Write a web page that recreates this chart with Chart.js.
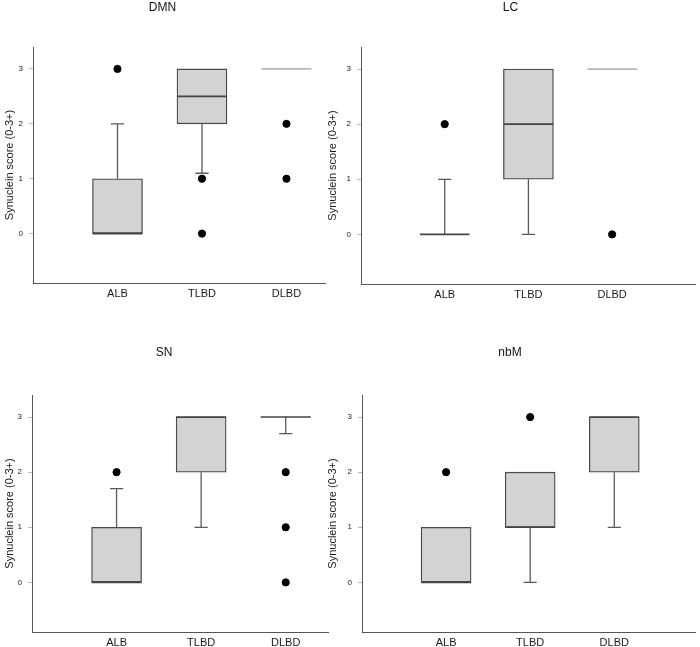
<!DOCTYPE html>
<html>
<head>
<meta charset="utf-8">
<script src="https://cdn.jsdelivr.net/npm/chart.js@4.4.1/dist/chart.umd.min.js"></script>
<style>
  body { margin: 0; background: #fff; width: 700px; height: 647px; position: relative; overflow: hidden; }
  .panel { position: absolute; }
</style>
</head>
<body>
<div class="panel" style="left:0;top:0"><canvas id="c0" width="335" height="310"></canvas></div>
<div class="panel" style="left:323px;top:0"><canvas id="c1" width="377" height="310"></canvas></div>
<div class="panel" style="left:0;top:320px"><canvas id="c2" width="335" height="327"></canvas></div>
<div class="panel" style="left:323px;top:320px"><canvas id="c3" width="377" height="327"></canvas></div>
<script>
// groups on the x axis
const groups = ['ALB', 'TLBD', 'DLBD'];
const yTicks = [0, 1, 2, 3];
const yTitle = 'Synuclein score (0-3+)';

// DMN
const dmnQ1 = [0, 2, 3];
const dmnQ3 = [1, 3, 3];
const dmnMedian = [0, 2.5, 3];
const dmnLow = [0, 1.1, 3];
const dmnHigh = [2, 3, 3];
const dmnOutliers = [[3], [1, 0], [2, 1]];

// LC
const lcQ1 = [0, 1, 3];
const lcQ3 = [0, 3, 3];
const lcMedian = [0, 2, 3];
const lcLow = [0, 0, 3];
const lcHigh = [1, 3, 3];
const lcOutliers = [[2], [], [0]];

// SN
const snQ1 = [0, 2, 3];
const snQ3 = [1, 3, 3];
const snMedian = [0, 3, 3];
const snLow = [0, 1, 2.7];
const snHigh = [1.7, 3, 3];
const snOutliers = [[2], [], [2, 1, 0]];

// nbM
const nbmQ1 = [0, 1, 2];
const nbmQ3 = [1, 2, 3];
const nbmMedian = [0, 1, 3];
const nbmLow = [0, 0, 1];
const nbmHigh = [1, 2, 3];
const nbmOutliers = [[2], [3], []];

// which median lines are drawn pale grey (collapsed boxes)
const dmnPale = [false, false, true];
const lcPale = [false, false, true];
const snPale = [false, false, false];
const nbmPale = [false, false, false];

const FONT = 'Liberation Sans, Arial, sans-serif';
const HALF_BOX = 0.296; // 25px at 84.5px per group
const CAP = 0.078;

function buildDatasets(q1, q3, med, low, high, outliers, pale) {
  const boxes = [], medians = [], paleLines = [], whiskers = [], points = [];
  groups.forEach((g, i) => {
    const x = i + 1;
    if (q3[i] > q1[i]) boxes.push({ x: x, y: [q1[i], q3[i]] });
    const seg = [{ x: x - HALF_BOX, y: med[i] }, { x: x + HALF_BOX, y: med[i] }, { x: x, y: null }];
    (pale[i] ? paleLines : medians).push(...seg);
    if (high[i] > q3[i]) {
      whiskers.push({ x: x, y: q3[i] }, { x: x, y: high[i] }, { x: x, y: null });
      whiskers.push({ x: x - CAP, y: high[i] }, { x: x + CAP, y: high[i] }, { x: x, y: null });
    }
    if (low[i] < q1[i]) {
      whiskers.push({ x: x, y: q1[i] }, { x: x, y: low[i] }, { x: x, y: null });
      whiskers.push({ x: x - CAP, y: low[i] }, { x: x + CAP, y: low[i] }, { x: x, y: null });
    }
    outliers[i].forEach(v => points.push({ x: x, y: v }));
  });
  return [
    { type: 'scatter', data: points, backgroundColor: '#000', borderColor: '#000', pointRadius: 3.6, order: 1 },
    { type: 'line', data: medians, borderColor: '#444', borderWidth: 1.6, pointRadius: 0, order: 2 },
    { type: 'line', data: paleLines, borderColor: '#b8b8b8', borderWidth: 1.8, pointRadius: 0, order: 2 },
    { type: 'line', data: whiskers, borderColor: '#5a5a5a', borderWidth: 1.3, pointRadius: 0, order: 3 },
    { type: 'bar', data: boxes, backgroundColor: '#d3d3d3', borderColor: '#4a4a4a', borderWidth: 1.3,
      borderSkipped: false, barThickness: 50, order: 4 }
  ];
}

function makePanel(id, title, datasets, geo) {
  new Chart(document.getElementById(id), {
    type: 'scatter',
    data: { datasets: datasets },
    options: {
      responsive: false,
      animation: false,
      devicePixelRatio: 1,
      layout: { padding: { left: 0, right: geo.padRight, top: 0, bottom: 0 } },
      plugins: {
        legend: { display: false },
        tooltip: { enabled: false },
        title: {
          display: true,
          text: title,
          color: '#111',
          font: { family: FONT, size: 12, weight: 'normal' },
          padding: { top: geo.titleTop, bottom: geo.titleBottom }
        }
      },
      scales: {
        x: {
          type: 'linear',
          min: 0,
          max: geo.xMax,
          offset: false,
          grid: { display: false, drawTicks: false },
          border: { display: true, color: '#555', width: 1 },
          ticks: {
            color: '#1a1a1a',
            padding: 4,
            font: { family: FONT, size: 11 },
            callback: v => groups[v - 1]
          },
          afterBuildTicks: s => { s.ticks = [1, 2, 3].map(v => ({ value: v })); },
          afterFit: s => { s.height = geo.xHeight; }
        },
        y: {
          type: 'linear',
          min: -0.9,
          max: 3.4,
          grid: { display: true, drawOnChartArea: false, drawTicks: true, tickLength: 4, color: '#bbb' },
          border: { display: true, color: '#555', width: 1 },
          ticks: { color: '#1a1a1a', padding: 6, font: { family: FONT, size: 8 } },
          title: {
            display: true,
            text: yTitle,
            color: '#1a1a1a',
            font: { family: FONT, size: 11 },
            padding: { top: 3.4, bottom: 0 }
          },
          afterBuildTicks: s => { s.ticks = yTicks.map(v => ({ value: v })); },
          afterFit: s => { s.width = geo.yWidth; }
        }
      }
    }
  });
}

makePanel('c0', 'DMN',
  buildDatasets(dmnQ1, dmnQ3, dmnMedian, dmnLow, dmnHigh, dmnOutliers, dmnPale),
  { padRight: 10, titleTop: 0, titleBottom: 32.6, xMax: 3.456, xHeight: 27, yWidth: 33 });
makePanel('c1', 'LC',
  buildDatasets(lcQ1, lcQ3, lcMedian, lcLow, lcHigh, lcOutliers, lcPale),
  { padRight: 2, titleTop: 0, titleBottom: 32.6, xMax: 3.99, xHeight: 26, yWidth: 38 });
makePanel('c2', 'SN',
  buildDatasets(snQ1, snQ3, snMedian, snLow, snHigh, snOutliers, snPale),
  { padRight: 7, titleTop: 25.8, titleBottom: 34.8, xMax: 3.5, xHeight: 15, yWidth: 32 });
makePanel('c3', 'nbM',
  buildDatasets(nbmQ1, nbmQ3, nbmMedian, nbmLow, nbmHigh, nbmOutliers, nbmPale),
  { padRight: 3, titleTop: 25.8, titleBottom: 34.8, xMax: 3.96, xHeight: 15, yWidth: 39 });
</script>
</body>
</html>
